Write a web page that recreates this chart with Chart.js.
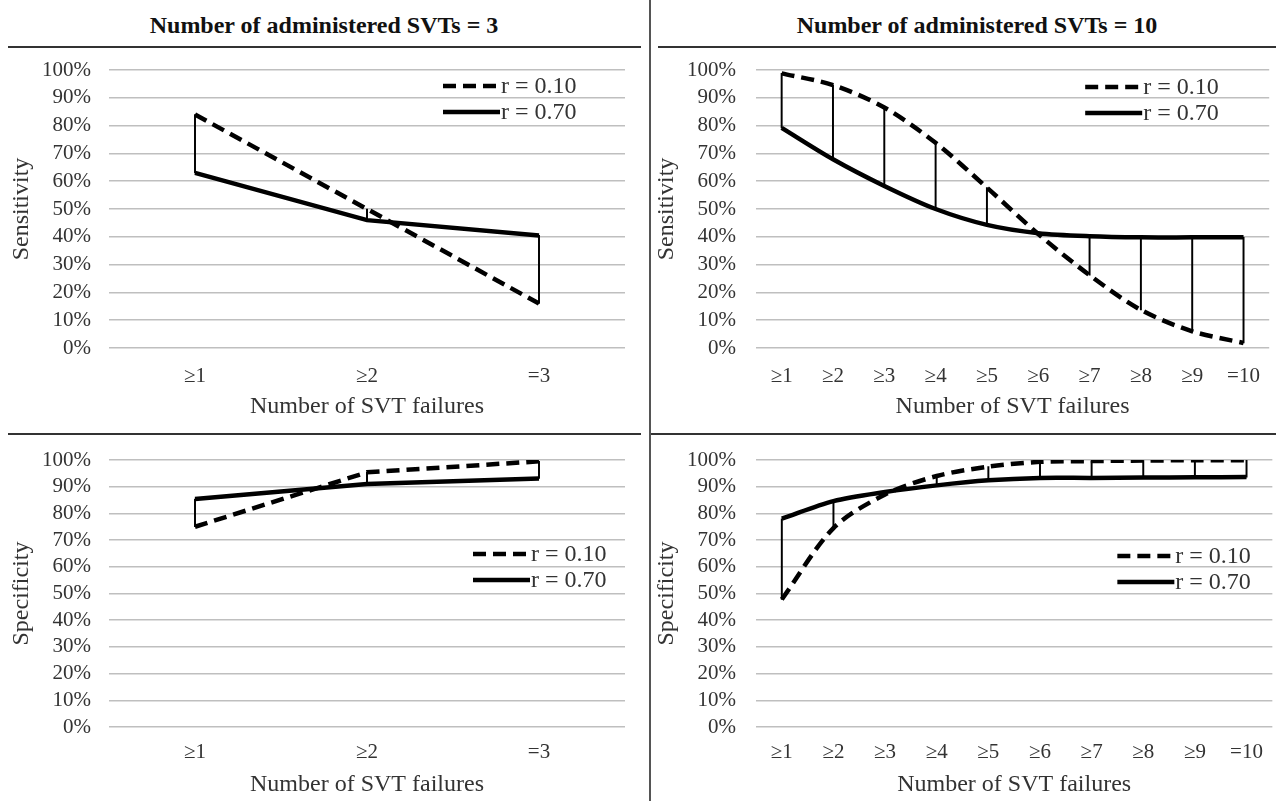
<!DOCTYPE html>
<html>
<head>
<meta charset="utf-8">
<script src="https://cdn.jsdelivr.net/npm/chart.js@4.4.1/dist/chart.umd.min.js"></script>
<style>
  body { margin: 0; background: #fff; width: 1276px; height: 801px; position: relative; overflow: hidden; font-family: "Liberation Serif", serif; }
  .title { position: absolute; top: 11px; line-height: 28px; font-weight: bold; font-size: 24px; white-space: nowrap; transform: translateX(-50%); color: #111; }
  .hline { position: absolute; height: 2px; background: #333; }
  .vline { position: absolute; width: 1.5px; background: #555; top: 0; height: 801px; left: 649px; }
  canvas { position: absolute; }
</style>
</head>
<body>
<div class="title" style="left:324px">Number of administered SVTs = 3</div>
<div class="title" style="left:977px">Number of administered SVTs = 10</div>
<div class="hline" style="top:46px; left:8px; width:633px"></div>
<div class="hline" style="top:46px; left:658px; width:618px"></div>
<div class="hline" style="top:433px; left:8px; width:633px"></div>
<div class="hline" style="top:433px; left:650px; width:626px"></div>
<div class="vline"></div>

<canvas id="sens3" width="645" height="395" style="left:0px; top:35px"></canvas>
<canvas id="sens10" width="625" height="395" style="left:651px; top:35px"></canvas>
<canvas id="spec3" width="645" height="376" style="left:0px; top:425px"></canvas>
<canvas id="spec10" width="625" height="376" style="left:651px; top:425px"></canvas>

<script>
// categories
const cats3 = ['≥1', '≥2', '=3'];
const cats10 = ['≥1', '≥2', '≥3', '≥4', '≥5', '≥6', '≥7', '≥8', '≥9', '=10'];

// sensitivity (%)
const sens3_r10 = [84, 50, 16];
const sens3_r70 = [63, 46, 40.5];
const sens10_r10 = [98.8, 94.6, 86.5, 73.8, 57.7, 41, 26.2, 13.7, 6, 1.8];
const sens10_r70 = [79.2, 67.9, 58.3, 50, 44.3, 41.3, 40.2, 39.8, 39.8, 39.8];

// specificity (%)
const spec3_r10 = [75, 95.4, 99.5];
const spec3_r70 = [85.4, 91, 93.1];
const spec10_r10 = [47.8, 74.5, 87.1, 94, 97.5, 99.3, 99.6, 99.8, 99.9, 99.9];
const spec10_r70 = [78, 84.6, 88, 90.5, 92.4, 93.3, 93.3, 93.4, 93.5, 93.6];

const yTicks = [0, 10, 20, 30, 40, 50, 60, 70, 80, 90, 100];
const seriesLabels = ['r = 0.10', 'r = 0.70'];

const fam = '"Liberation Serif", "Times New Roman", serif';

// legend drawn inside the plot, line sample then text
const lineLegend = {
  id: 'lineLegend',
  afterDatasetsDraw(chart, args, opts) {
    const {ctx, chartArea} = chart;
    const x0 = chartArea.right - opts.left;
    chart.data.datasets.forEach((ds, i) => {
      if (ds.type === 'bar') return;
      const y = chartArea.top + opts.top + i * 26;
      ctx.save();
      ctx.strokeStyle = ds.borderColor;
      ctx.lineWidth = ds.borderWidth;
      ctx.setLineDash(ds.borderDash || []);
      ctx.beginPath();
      ctx.moveTo(x0, y);
      ctx.lineTo(x0 + 57, y);
      ctx.stroke();
      ctx.fillStyle = '#333';
      ctx.font = '24px ' + fam;
      ctx.textBaseline = 'middle';
      ctx.fillText(ds.label, x0 + 58, y + 1);
      ctx.restore();
    });
  }
};

function makeChart(id, cats, r10, r70, yTitle, geo) {
  const hiLo = cats.map((c, i) => [Math.min(r10[i], r70[i]), Math.max(r10[i], r70[i])]);
  return new Chart(document.getElementById(id), {
    type: 'line',
    data: {
      labels: cats,
      datasets: [
        { label: seriesLabels[0], data: r10, borderColor: '#000', borderWidth: 4.5, borderDash: [13, 7],
          pointRadius: 0, tension: geo.tension, fill: false },
        { label: seriesLabels[1], data: r70, borderColor: '#000', borderWidth: 4.5,
          pointRadius: 0, tension: geo.tension, fill: false },
        { type: 'bar', label: 'hilo', data: hiLo, backgroundColor: '#000', barThickness: 1.3 }
      ]
    },
    options: {
      responsive: false,
      animation: false,
      // top padding kept larger than the y label overflow so the plot top is exact
      layout: { padding: { top: 35, right: geo.padRight, left: 0, bottom: 0 } },
      plugins: {
        legend: { display: false },
        tooltip: { enabled: false },
        lineLegend: { left: geo.legLeft, top: geo.legTop }
      },
      scales: {
        x: {
          offset: true,
          grid: { display: false, drawTicks: false },
          border: { display: false },
          ticks: { color: '#333', font: { family: fam, size: 21 }, padding: geo.xTickPad, maxRotation: 0, autoSkip: false },
          title: { display: true, text: 'Number of SVT failures', color: '#333',
                   font: { family: fam, size: 24 }, padding: { top: 0, bottom: geo.xTitlePad } },
          afterFit: s => { s.height = geo.xHeight; }
        },
        y: {
          min: 0, max: 100,
          afterBuildTicks: s => { s.ticks = yTicks.map(v => ({ value: v })); },
          ticks: { callback: v => v + '%', autoSkip: false, color: '#333', font: { family: fam, size: 21 }, padding: geo.yTickPad },
          grid: { color: '#bfbfbf', lineWidth: 1.5, drawTicks: false },
          border: { display: false },
          title: { display: true, text: yTitle, color: '#333',
                   font: { family: fam, size: 24 }, padding: { top: geo.yTitlePad, bottom: 0 } },
          afterFit: s => { s.width = geo.yWidth; }
        }
      }
    },
    plugins: [lineLegend]
  });
}

makeChart('sens3', cats3, sens3_r10, sens3_r70, 'Sensitivity',
  { padRight: 20, yWidth: 109, xHeight: 82, xTickPad: 16, xTitlePad: 9, yTickPad: 18, yTitlePad: 7,
    legLeft: 182, legTop: 16, tension: 0 });
makeChart('sens10', cats10, sens10_r10, sens10_r70, 'Sensitivity',
  { padRight: 1, yWidth: 105, xHeight: 82, xTickPad: 16, xTitlePad: 9, yTickPad: 20, yTitlePad: 1,
    legLeft: 184, legTop: 17, tension: 0.3 });
makeChart('spec3', cats3, spec3_r10, spec3_r70, 'Specificity',
  { padRight: 20, yWidth: 109, xHeight: 74, xTickPad: 13, xTitlePad: 2, yTickPad: 18, yTitlePad: 7,
    legLeft: 152, legTop: 94, tension: 0 });
makeChart('spec10', cats10, spec10_r10, spec10_r70, 'Specificity',
  { padRight: 1, yWidth: 105, xHeight: 74, xTickPad: 13, xTitlePad: 2, yTickPad: 20, yTitlePad: 1,
    legLeft: 155, legTop: 96, tension: 0.3 });
</script>
</body>
</html>
